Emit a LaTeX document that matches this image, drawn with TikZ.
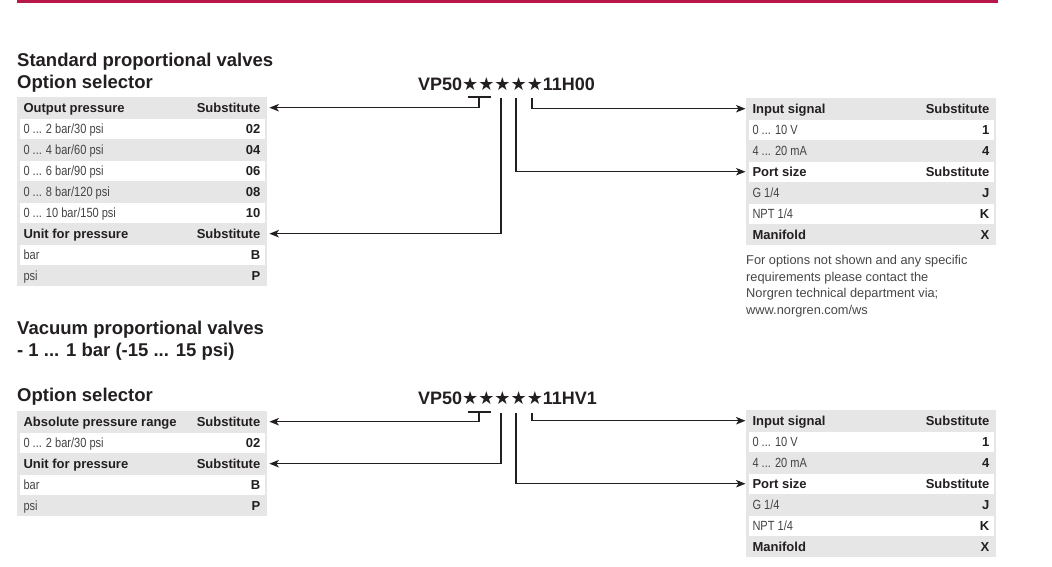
\documentclass[tikz,border=0pt]{standalone}
\usepackage{fontspec}
\setmainfont{Liberation Sans}
\newfontfamily\condf[FakeStretch=0.83]{Liberation Sans}
\newfontfamily\symf{DejaVu Sans}
\usetikzlibrary{arrows.meta}
\definecolor{ink}{RGB}{35,31,32}
\definecolor{bodyc}{RGB}{68,68,68}
\definecolor{notec}{RGB}{70,70,70}
\definecolor{rowgrey}{RGB}{230,230,230}
\definecolor{brand}{RGB}{183,24,72}
\tikzset{
  rowbox/.style={minimum width=250pt, minimum height=21pt, inner sep=0pt, anchor=north west},
  lt/.style={anchor=base west, inner sep=0pt, text=ink},
  rt/.style={anchor=base east, inner sep=0pt, text=ink},
  titlenode/.style={anchor=base west, inner sep=0pt, text=ink, font=\fontsize{18.5}{22}\selectfont\bfseries},
  codenode/.style={anchor=base west, inner sep=0pt, text=ink, font=\fontsize{18}{22}\selectfont\bfseries},
  notenode/.style={anchor=base west, inner sep=0pt, text=notec, font=\fontsize{12.8}{16}\selectfont},
  conn/.style={draw=ink, line width=1.1pt},
  arr/.style={conn, -{Stealth[length=9.5pt,width=7.5pt,inset=2.5pt]}}
}
\newcommand\hdrf{\fontsize{13}{15}\selectfont\bfseries}
\newcommand\bodyf{\condf\fontsize{13.3}{15}\selectfont\color{bodyc}}
% #1 name, #2 x, #3 ytop, #4 white(1)/grey(0), #5 left text, #6 right text
\newcommand\optrow[6]{%
  \node[rowbox] (#1) at (#2,#3) {};
  \ifnum#4=1 \fill[white] ([xshift=2.5pt,yshift=-0.5pt]#1.north west) rectangle ([xshift=-2.5pt,yshift=0.5pt]#1.south east);\fi
  \node[lt] (#1l) at (#2+6.3,#3+15) {#5};
  \node[rt] (#1r) at (#2+243.5,#3+15) {#6};
}
\begin{document}
\begin{tikzpicture}[x=1pt,y=-1pt]
\useasboundingbox (0,0) rectangle (1052,566);
% top rule
\fill[brand] (17,0) rectangle (998,3);

%================ Section 1 ================
\node[titlenode] (t1) at (17,66) {Standard proportional valves};
\node[titlenode] (t2) at (17,88) {Option selector};
\node[codenode] (code1) at (418,90) {VP50{\symf ★★★★★}11H00};

% left table
\fill[rowgrey] (17,97) rectangle (267,286);
\optrow{op}{17}{97}{0}{\hdrf Output pressure}{\hdrf Substitute}
\optrow{opa}{17}{118}{1}{\bodyf 0 ... 2 bar/30 psi}{\hdrf 02}
\optrow{opb}{17}{139}{0}{\bodyf 0 ... 4 bar/60 psi}{\hdrf 04}
\optrow{opc}{17}{160}{1}{\bodyf 0 ... 6 bar/90 psi}{\hdrf 06}
\optrow{opd}{17}{181}{0}{\bodyf 0 ... 8 bar/120 psi}{\hdrf 08}
\optrow{ope}{17}{202}{1}{\bodyf 0 ... 10 bar/150 psi}{\hdrf 10}
\optrow{up}{17}{223}{0}{\hdrf Unit for pressure}{\hdrf Substitute}
\optrow{upa}{17}{244}{1}{\bodyf bar}{\hdrf B}
\optrow{upb}{17}{265}{0}{\bodyf psi}{\hdrf P}

% right table
\fill[rowgrey] (746,98) rectangle (996,245);
\optrow{is}{746}{98}{0}{\hdrf Input signal}{\hdrf Substitute}
\optrow{isa}{746}{119}{1}{\bodyf 0 ... 10 V}{\hdrf 1}
\optrow{isb}{746}{140}{0}{\bodyf 4 ... 20 mA}{\hdrf 4}
\optrow{ps}{746}{161}{1}{\hdrf Port size}{\hdrf Substitute}
\optrow{psa}{746}{182}{0}{\bodyf G 1/4}{\hdrf J}
\optrow{psb}{746}{203}{1}{\bodyf NPT 1/4}{\hdrf K}
\optrow{mf}{746}{224}{0}{\hdrf Manifold}{\hdrf X}

\node[notenode] (n1) at (746,264.5) {For options not shown and any specific};
\node[notenode] (n2) at (746,281) {requirements please contact the};
\node[notenode] (n3) at (746,297.5) {Norgren technical department via;};
\node[notenode] (n4) at (746,314) {www.norgren.com/ws};

% connectors section 1
\coordinate (b1l) at (468,97);
\coordinate (b1r) at (491,97);
\coordinate (b1m) at (479,97);
\coordinate (s13) at (501,98);
\coordinate (s14) at (516,98);
\coordinate (s15) at (532,98);
\draw[conn] (b1l) -- (b1r);
\draw[arr] (b1m) |- ([xshift=2pt]op.east);
\draw[arr] (s13) |- ([xshift=2pt]up.east);
\draw[arr] (s14) |- ([xshift=-0.5pt]ps.west);
\draw[arr] (s15) |- ([xshift=-0.5pt]is.west);

%================ Section 2 ================
\node[titlenode] (t3) at (17,334) {Vacuum proportional valves};
\node[titlenode] (t4) at (17,356) {- 1 ... 1 bar (-15 ... 15 psi)};
\node[titlenode] (t5) at (17,401) {Option selector};
\node[codenode] (code2) at (418,404) {VP50{\symf ★★★★★}11HV1};

\fill[rowgrey] (17,411) rectangle (267,516);
\optrow{ap}{17}{411}{0}{\hdrf Absolute pressure range}{\hdrf Substitute}
\optrow{apa}{17}{432}{1}{\bodyf 0 ... 2 bar/30 psi}{\hdrf 02}
\optrow{uq}{17}{453}{0}{\hdrf Unit for pressure}{\hdrf Substitute}
\optrow{uqa}{17}{474}{1}{\bodyf bar}{\hdrf B}
\optrow{uqb}{17}{495}{0}{\bodyf psi}{\hdrf P}

\fill[rowgrey] (746,410) rectangle (996,557);
\optrow{js}{746}{410}{0}{\hdrf Input signal}{\hdrf Substitute}
\optrow{jsa}{746}{431}{1}{\bodyf 0 ... 10 V}{\hdrf 1}
\optrow{jsb}{746}{452}{0}{\bodyf 4 ... 20 mA}{\hdrf 4}
\optrow{qs}{746}{473}{1}{\hdrf Port size}{\hdrf Substitute}
\optrow{qsa}{746}{494}{0}{\bodyf G 1/4}{\hdrf J}
\optrow{qsb}{746}{515}{1}{\bodyf NPT 1/4}{\hdrf K}
\optrow{mg}{746}{536}{0}{\hdrf Manifold}{\hdrf X}

\coordinate (b2l) at (468,412);
\coordinate (b2r) at (491,412);
\coordinate (b2m) at (479,412);
\coordinate (s23) at (501,413);
\coordinate (s24) at (516,413);
\coordinate (s25) at (532,413);
\draw[conn] (b2l) -- (b2r);
\draw[arr] (b2m) |- ([xshift=2pt]ap.east);
\draw[arr] (s23) |- ([xshift=2pt]uq.east);
\draw[arr] (s24) |- ([xshift=-0.5pt]qs.west);
\draw[arr] (s25) |- ([xshift=-0.5pt]js.west);
\end{tikzpicture}
\end{document}
